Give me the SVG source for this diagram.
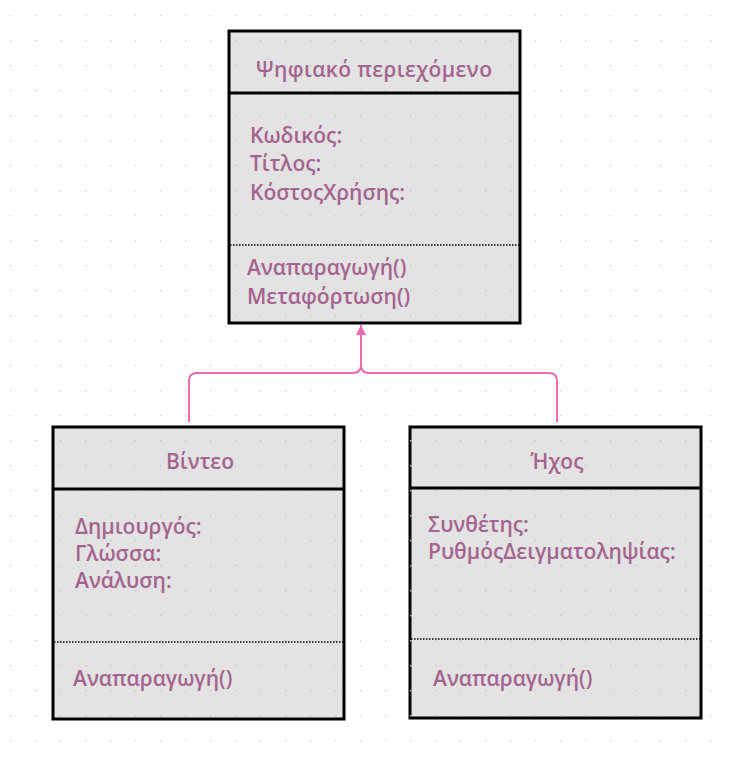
<svg xmlns="http://www.w3.org/2000/svg" width="729" height="758" viewBox="0 0 729 758">
<style>
.box{fill:#e3e3e3;stroke:#000;stroke-width:3}
.div{stroke:#000;stroke-width:3}
.dot{stroke:#000;stroke-width:1.5;stroke-dasharray:1.5 1.5}
.t{font-family:"Open Sans","Noto Sans",sans-serif;font-size:21px;font-weight:600;fill:#a5648f}
.title{text-anchor:middle}
.conn{fill:none;stroke:#ee6aae;stroke-width:2}
</style>
<defs>
<pattern id="grid" x="10" y="15" width="25" height="25" patternUnits="userSpaceOnUse">
<circle cx="0.5" cy="0.5" r="1" fill="#d2d2d2"/>
</pattern>
<pattern id="grid2" x="10" y="15" width="25" height="25" patternUnits="userSpaceOnUse">
<circle cx="0.5" cy="0.5" r="1" fill="#c4c4c4"/>
</pattern>
<marker id="arr" viewBox="0 0 10 10" refX="10" refY="5" markerWidth="5" markerHeight="5" orient="auto">
<path d="M0,0 L10,5 L0,10 z" fill="#ee6aae"/>
</marker>
</defs>
<rect width="729" height="758" fill="#fff"/>
<rect width="729" height="758" fill="url(#grid)"/>
<g id="connectors">
<path class="conn" d="M189,422 V381 Q189,373 197,373 H353 Q361,373 361,365 V325" marker-end="url(#arr)"/>
<path class="conn" d="M557,422 V381 Q557,373 549,373 H369 Q361,373 361,365"/>
</g>
<g id="node-digital">
<rect class="box" x="229" y="31" width="291" height="292"/>
<rect x="229" y="31" width="291" height="292" fill="url(#grid2)"/>
<line class="div" x1="229" y1="93" x2="520" y2="93"/>
<line class="dot" x1="230" y1="245" x2="519" y2="245"/>
<text class="t title" x="374" y="77" textLength="236">Ψηφιακό περιεχόμενο</text>
<text class="t" x="250" y="143">Κωδικός:</text>
<text class="t" x="250" y="171">Τίτλος:</text>
<text class="t" x="250" y="200">ΚόστοςΧρήσης:</text>
<text class="t" x="247" y="275">Αναπαραγωγή()</text>
<text class="t" x="247" y="304">Μεταφόρτωση()</text>
</g>
<g id="node-video">
<rect class="box" x="53" y="427" width="291" height="292"/>
<rect x="53" y="427" width="291" height="292" fill="url(#grid2)"/>
<line class="div" x1="53" y1="489" x2="344" y2="489"/>
<line class="dot" x1="54" y1="642" x2="343" y2="642"/>
<text class="t title" x="200" y="469">Βίντεο</text>
<text class="t" x="75" y="534">Δημιουργός:</text>
<text class="t" x="75" y="561">Γλώσσα:</text>
<text class="t" x="75" y="588">Ανάλυση:</text>
<text class="t" x="73" y="686">Αναπαραγωγή()</text>
</g>
<g id="node-audio">
<rect class="box" x="410" y="427" width="291" height="291"/>
<rect x="410" y="427" width="291" height="291" fill="url(#grid2)"/>
<line class="div" x1="410" y1="488" x2="701" y2="488"/>
<line class="dot" x1="411" y1="639" x2="700" y2="639"/>
<text class="t title" x="557" y="469">Ήχος</text>
<text class="t" x="428" y="532">Συνθέτης:</text>
<text class="t" x="428" y="559">ΡυθμόςΔειγματοληψίας:</text>
<text class="t" x="433" y="686">Αναπαραγωγή()</text>
</g>
</svg>
